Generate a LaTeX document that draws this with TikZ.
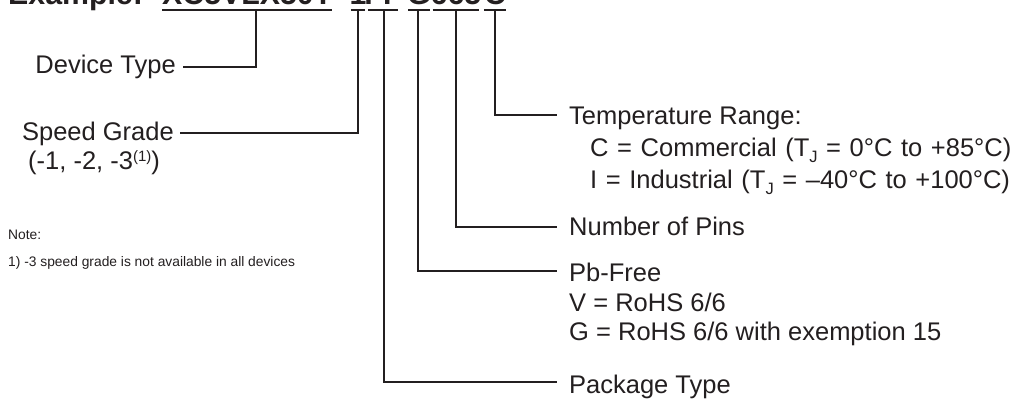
\documentclass[tikz,border=0pt]{standalone}
\usepackage{fontspec}
\setmainfont{Liberation Sans}
\definecolor{ink}{HTML}{231F20}
\newcommand{\sbJ}{\raisebox{-5.5pt}{\fontsize{16.5}{16.5}\selectfont J}}
\newcommand{\supOne}{\raisebox{8pt}{\fontsize{15}{15}\selectfont (1)}}
\newcommand{\wideSpaces}{\spaceskip=8.6pt\relax}
\begin{document}
\begin{tikzpicture}[x=1pt,y=-1pt,
  lbl/.style={anchor=base west,inner sep=0,text=ink,font=\fontsize{25.5}{30}\selectfont},
  lblr/.style={lbl,anchor=base east},
  ttl/.style={inner sep=0,text=ink,anchor=base,font=\bfseries\fontsize{30.3}{34}\selectfont},
  note/.style={anchor=base west,inner sep=0,text=ink,font=\fontsize{13.8}{16}\selectfont},
  wire/.style={draw=ink,line width=1.3pt}]
\clip (0,0) rectangle (1026,403);
\fill[white] (0,0) rectangle (1026,403);
% title (only its lower edge is visible)
\node[ttl,anchor=base west] (ex) at (8,5) {Example:};
\node[ttl,anchor=base west] (pn) at (162,5) {XC5VLX50T};
\node[ttl] (dash) at (341,5) {-};
\node[ttl] (sg) at (358,5) {1};
\node[ttl] (pk) at (383,5) {FF};
\node[ttl] (pb) at (419,5) {G};
\node[ttl] (np) at (456,5) {665};
\node[ttl] (tr) at (495,5) {C};
% underlines
\draw[wire] ([yshift=-5pt]pn.base west) -- ([yshift=-5pt]pn.base east);
\draw[wire] ([shift={(1.5pt,-5pt)}]sg.base west) -- ([shift={(-1.5pt,-5pt)}]sg.base east);
\draw[wire] ([shift={(4pt,-5pt)}]pk.base west) -- ([shift={(-4pt,-5pt)}]pk.base east);
\draw[wire] ([shift={(1pt,-5pt)}]pb.base west) -- ([shift={(-1pt,-5pt)}]pb.base east);
\draw[wire] ([shift={(2pt,-5pt)}]np.base west) -- ([shift={(-2pt,-5pt)}]np.base east);
\draw[wire] ([shift={(0pt,-5pt)}]tr.base west) -- ([shift={(0pt,-5pt)}]tr.base east);
% connector end points
\coordinate (vDev) at (256,10); \coordinate (eDev) at (183,67);
\coordinate (vSpd) at (358,10); \coordinate (eSpd) at (180,133);
\coordinate (vPkg) at (384,10); \coordinate (ePkg) at (557,382);
\coordinate (vPb)  at (418,10); \coordinate (ePb)  at (557,271);
\coordinate (vPin) at (456,10); \coordinate (ePin) at (557,227);
\coordinate (vTmp) at (495,10); \coordinate (eTmp) at (557,115);
% labels
\node[lblr] (dev) at (176,74) {Device Type};
\node[lblr] (spd) at (174,141) {Speed Grade};
\node[lbl] (spd2) at (28,170) {(-1, -2, -3\supOne)};
\node[note] (nt) at (8,240) {Note:};
\node[note] (nt1) at (8,267) {1) -3 speed grade is not available in all devices};
\node[lbl] (tmp) at (569,125) {Temperature Range:};
\node[lbl] (tmpC) at (590,157) {\wideSpaces C = Commercial (T\sbJ{} = 0°C to +85°C)};
\node[lbl] (tmpI) at (590,189) {\wideSpaces I = Industrial (T\sbJ{} = –40°C to +100°C)};
\node[lbl] (pin) at (569,236) {Number of Pins};
\node[lbl] (pbf) at (569,282) {Pb-Free};
\node[lbl] (pbV) at (569,312) {V = RoHS 6/6};
\node[lbl] (pbG) at (569,341) {G = RoHS 6/6 with exemption 15};
\node[lbl] (pkg) at (569,393) {Package Type};
% connectors
\draw[wire] (vDev) |- (eDev);
\draw[wire] (vSpd) |- (eSpd);
\draw[wire] (vPkg) |- (ePkg);
\draw[wire] (vPb)  |- (ePb);
\draw[wire] (vPin) |- (ePin);
\draw[wire] (vTmp) |- (eTmp);
\end{tikzpicture}
\end{document}
